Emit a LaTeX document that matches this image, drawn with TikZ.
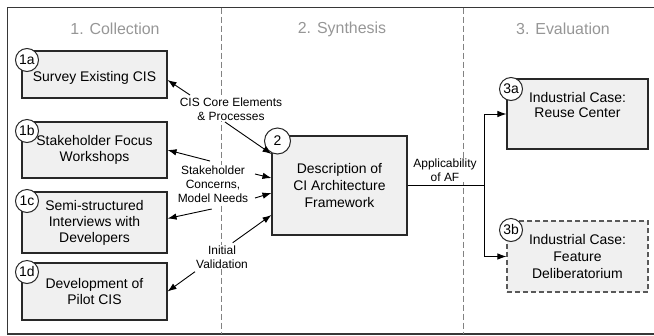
\documentclass[tikz,border=0pt]{standalone}
\usepackage{fontspec}
\setmainfont{Liberation Sans}
\usetikzlibrary{calc,arrows.meta}
\definecolor{boxfill}{RGB}{240,240,240}
\definecolor{titlegray}{RGB}{150,150,150}
\definecolor{divgray}{RGB}{130,130,130}
\definecolor{framegray}{RGB}{55,55,55}
\definecolor{edgegray}{RGB}{40,40,40}
\begin{document}
\begin{tikzpicture}[x=1bp,y=-1bp,
  box/.style={draw=edgegray, line width=1.1bp, fill=boxfill, align=center, inner sep=0pt,
    font=\fontsize{14}{16}\selectfont, minimum width=145bp},
  dashbox/.style={box, draw=black!65, dash pattern=on 5bp off 3bp},
  numcirc/.style={draw=edgegray, line width=1bp, fill=white, circle, inner sep=0pt,
    minimum size=23bp, font=\fontsize{14}{16}\selectfont},
  lbl/.style={align=center, inner sep=1bp, fill=white, font=\fontsize{12}{14}\selectfont},
  arr/.style={line width=0.9bp, -{Latex[length=9bp,width=6.5bp]}},
  plain/.style={line width=0.9bp},
  coltitle/.style={text=titlegray, font=\fontsize{16}{18}\selectfont},
  divider/.style={draw=divgray, line width=0.7bp, dash pattern=on 6bp off 3bp},
  frame/.style={draw=framegray, line width=1.3bp}]
\useasboundingbox (0,0) rectangle (654,335);

% frame
\coordinate (ftr) at (654,7.5);
\coordinate (ftl) at (7.5,7.5);
\coordinate (fbl) at (7.5,334);
\coordinate (fbr) at (654,334);
\draw[frame] (ftr) -- (ftl) -- (fbl) -- (fbr);

% dividers
\coordinate (d1t) at (221,7.5);
\coordinate (d1b) at (221,334);
\coordinate (d2t) at (463,7.5);
\coordinate (d2b) at (463,334);
\draw[divider] (d1t) -- (d1b);
\draw[divider] (d2t) -- (d2b);

% column titles
\node[coltitle] (t1) at (115,29) {1. Collection};
\node[coltitle] (t2) at (342,29) {2. Synthesis};
\node[coltitle] (t3) at (563,29) {3. Evaluation};

% boxes
\node[box, minimum height=47bp,
  label={[yshift=-3.5bp, align=center, font=\fontsize{14}{16}\selectfont]center:Survey Existing CIS}]
  (b1a) at (94.5,74.5) {};
\node[box, minimum height=56bp] (b1b) at (94.5,150) {Stakeholder Focus\\Workshops};
\node[box, minimum height=61bp] (b1c) at (94.5,222.5) {Semi-structured\\Interviews with\\Developers};
\node[box, minimum height=57bp] (b1d) at (94.5,291.5) {Development of\\Pilot CIS};
\node[box, minimum width=135bp, minimum height=99bp,
  font=\fontsize{14}{17}\selectfont] (b2) at (339.5,185.5) {Description of\\CI Architecture\\Framework};
\node[box, minimum width=141bp, minimum height=70bp,
  label={[yshift=9bp, align=center, font=\fontsize{14}{16}\selectfont]center:Industrial Case:\\Reuse Center}]
  (b3a) at (577.5,114) {};
\node[dashbox, minimum width=141bp, minimum height=71bp,
  font=\fontsize{14}{17}\selectfont] (b3b) at (577.5,256.5) {Industrial Case:\\Feature\\Deliberatorium};

% number circles
\node[numcirc] (c1a) at (27,60) {1a};
\node[numcirc] (c1b) at (27,131) {1b};
\node[numcirc] (c1c) at (27,201) {1c};
\node[numcirc] (c1d) at (27,272) {1d};
\node[numcirc, minimum size=26bp] (c2) at (277.5,141) {2};
\node[numcirc] (c3a) at (511,89) {3a};
\node[numcirc] (c3b) at (511,230) {3b};

% labels
\node[lbl] (lcis) at (231,109) {CIS Core Elements\\\& Processes};
\node[lbl] (lsh) at (213,184.5) {Stakeholder\\Concerns,\\Model Needs};
\node[lbl] (liv) at (222,257) {Initial\\Validation};
\node[lbl] (laf) at (445,170) {Applicability\\of AF};

% arrows to the left column and into the framework
\draw[arr] ($(lcis)+(-41,-14)$) -- ($(b1a.east)+(0,5.5)$);
\draw[arr] ($(lcis)+(-6,13)$) -- ($(b2.west)+(0,-31.5)$);
\draw[arr] ($(lsh)+(-3,-23.5)$) -- (b1b.east);
\draw[arr] ($(lsh)+(-1.3,24.5)$) -- ($(b1c.east)+(0,-4)$);
\draw[arr] ($(lsh)+(42,-10.5)$) -- ($(b2.west)+(0,-7.5)$);
\draw[arr] ($(lsh)+(42,13.5)$) -- ($(b2.west)+(0,7.5)$);
\draw[arr] ($(liv)+(10.7,-14.3)$) -- ($(b2.west)+(0,29.5)$);
\draw[arr] ($(liv)+(-27,14.7)$) -- (b1d.east);

% evaluation branch
\coordinate (split) at (484,185.5);
\draw[plain] (b2.east) -- (split);
\draw[arr] (split) |- (b3a.west);
\draw[arr] (split) |- (b3b.west);
\end{tikzpicture}
\end{document}
